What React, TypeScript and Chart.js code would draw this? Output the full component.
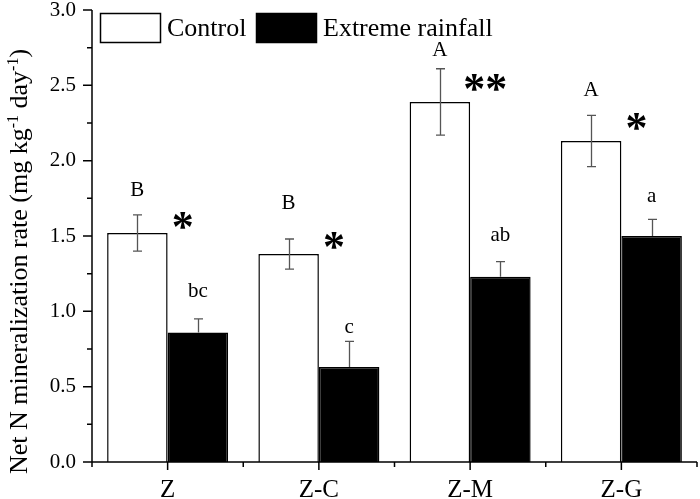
import React, { useEffect, useRef } from 'react';
import { Chart, registerables } from 'chart.js';

Chart.register(...registerables);

const categories = ['Z', 'Z-C', 'Z-M', 'Z-G'];
const seriesNames = ['Control', 'Extreme rainfall'];
const controlValues = [1.52, 1.38, 2.39, 2.13];
const controlErrors = [0.12, 0.10, 0.22, 0.17];
const rainValues = [0.86, 0.63, 1.23, 1.50];
const rainErrors = [0.09, 0.17, 0.10, 0.11];
const controlLetters = ['B', 'B', 'A', 'A'];
const controlLetterY = [1.805, 1.719, 2.734, 2.468];
const rainLetters = ['bc', 'c', 'ab', 'a'];
const rainLetterY = [1.13, 0.89, 1.506, 1.765];
const stars = ['*', '*', '**', '*'];
const starY = [1.606, 1.473, 2.517, 2.258];
const yTitleParts = [
  { text: 'Net N mineralization rate (mg kg', sup: false },
  { text: '-1', sup: true },
  { text: ' day', sup: false },
  { text: '-1', sup: true },
  { text: ')', sup: false },
];

const FONT = '"Liberation Serif", "Times New Roman", serif';

const decorPlugin = {
  id: 'decor',
  afterDatasetsDraw(chart: any) {
    const ctx: CanvasRenderingContext2D = chart.ctx;
    const xs = chart.scales.x;
    const ys = chart.scales.y;
    const { left, right, top, bottom } = chart.chartArea;
    ctx.save();

    // error bars
    const sets: [number[], number[], boolean][] = [
      [controlValues, controlErrors, true],
      [rainValues, rainErrors, false],
    ];
    sets.forEach(([vals, errs, both], di) => {
      const meta = chart.getDatasetMeta(di);
      meta.data.forEach((bar: any, i: number) => {
        const cx = Math.round(bar.x) + 0.5;
        const yTop = ys.getPixelForValue(vals[i] + errs[i]);
        const yBot = both ? ys.getPixelForValue(vals[i] - errs[i]) : ys.getPixelForValue(vals[i]);
        ctx.strokeStyle = '#555';
        ctx.lineWidth = 1.3;
        ctx.beginPath();
        ctx.moveTo(cx, yTop);
        ctx.lineTo(cx, yBot);
        ctx.moveTo(cx - 4.5, yTop);
        ctx.lineTo(cx + 4.5, yTop);
        if (both) {
          ctx.moveTo(cx - 4.5, yBot);
          ctx.lineTo(cx + 4.5, yBot);
        }
        ctx.stroke();
      });
    });

    // axes
    ctx.strokeStyle = '#000';
    ctx.lineWidth = 1.5;
    const ax = Math.round(left);
    const ay = Math.round(bottom);
    ctx.beginPath();
    ctx.moveTo(ax, ys.getPixelForValue(3));
    ctx.lineTo(ax, ay + 5);
    ctx.moveTo(ax, ay);
    ctx.lineTo(right, ay);
    for (let k = 0; k <= 12; k++) {
      const v = k * 0.25;
      const py = ys.getPixelForValue(v);
      const len = k % 2 === 0 ? 9 : 5;
      ctx.moveTo(ax - len, py);
      ctx.lineTo(ax, py);
    }
    const half = (xs.getPixelForValue(1) - xs.getPixelForValue(0)) / 2;
    categories.forEach((_, i) => {
      const px = xs.getPixelForValue(i);
      ctx.moveTo(px, ay);
      ctx.lineTo(px, ay + 8);
    });
    for (let k = 0; k <= categories.length; k++) {
      const px = xs.getPixelForValue(0) - half + k * 2 * half;
      ctx.moveTo(px, ay);
      ctx.lineTo(px, ay + 5);
    }
    ctx.stroke();

    // letters
    ctx.fillStyle = '#000';
    ctx.textAlign = 'center';
    ctx.textBaseline = 'middle';
    ctx.font = `21px ${FONT}`;
    const m0 = chart.getDatasetMeta(0);
    const m1 = chart.getDatasetMeta(1);
    categories.forEach((_, i) => {
      ctx.fillText(controlLetters[i], m0.data[i].x, ys.getPixelForValue(controlLetterY[i]));
      ctx.fillText(rainLetters[i], m1.data[i].x, ys.getPixelForValue(rainLetterY[i]));
    });
    // stars
    const starSize = 44;
    ctx.font = `bold ${starSize}px ${FONT}`;
    ctx.textBaseline = 'alphabetic';
    categories.forEach((_, i) => {
      const px = xs.getPixelForValue(i) + half * 0.2;
      ctx.fillText(stars[i], px, ys.getPixelForValue(starY[i]) + 0.47 * starSize);
    });

    // legend
    const boxW = 60;
    const boxH = 29;
    const ly = top + 3;
    const legendX = [left + 8, left + 164];
    seriesNames.forEach((name, i) => {
      const lx = legendX[i];
      ctx.fillStyle = i === 0 ? '#fff' : '#000';
      ctx.fillRect(lx + 0.5, ly + 0.5, boxW, boxH);
      ctx.strokeStyle = '#000';
      ctx.lineWidth = 1.5;
      ctx.strokeRect(lx + 0.5, ly + 0.5, boxW, boxH);
      ctx.fillStyle = '#000';
      ctx.font = `26px ${FONT}`;
      ctx.textAlign = 'left';
      ctx.textBaseline = 'alphabetic';
      ctx.fillText(name, lx + boxW + 7, ly + 23);
    });

    // y title
    ctx.save();
    ctx.translate(27, 261.5);
    ctx.rotate(-Math.PI / 2);
    const mainFont = `26px ${FONT}`;
    const supFont = `16px ${FONT}`;
    let total = 0;
    const widths = yTitleParts.map((p) => {
      ctx.font = p.sup ? supFont : mainFont;
      const w = ctx.measureText(p.text).width;
      total += w;
      return w;
    });
    let cx = -total / 2;
    ctx.textAlign = 'left';
    ctx.textBaseline = 'alphabetic';
    yTitleParts.forEach((p, i) => {
      ctx.font = p.sup ? supFont : mainFont;
      ctx.fillText(p.text, cx, p.sup ? -9 : 0);
      cx += widths[i];
    });
    ctx.restore();

    ctx.restore();
  },
};

export default function App() {
  const ref = useRef<HTMLCanvasElement>(null);
  useEffect(() => {
    if (!ref.current) return;
    const chart = new Chart(ref.current, {
      type: 'bar',
      data: {
        labels: categories,
        datasets: [
          {
            label: seriesNames[0],
            data: controlValues,
            backgroundColor: '#ffffff',
            borderColor: '#000000',
            borderWidth: 1.5,
            borderSkipped: 'bottom',
            categoryPercentage: 0.8,
            barPercentage: 1.0,
          },
          {
            label: seriesNames[1],
            data: rainValues,
            backgroundColor: '#000000',
            borderColor: '#000000',
            borderWidth: 1.5,
            borderSkipped: 'bottom',
            categoryPercentage: 0.8,
            barPercentage: 1.0,
          },
        ],
      },
      options: {
        responsive: false,
        animation: false,
        events: [],
        layout: { padding: { left: 0, top: 10, right: 3, bottom: 0 } },
        plugins: { legend: { display: false }, tooltip: { enabled: false } },
        scales: {
          x: {
            grid: { display: false, drawTicks: false },
            border: { display: false },
            ticks: { color: '#000', font: { family: FONT, size: 25 }, padding: 13, maxRotation: 0 },
            afterFit: (s: any) => {
              s.height = 37;
              s.paddingLeft = 0;
              s.paddingRight = 0;
            },
          },
          y: {
            min: 0,
            max: 3,
            grid: { display: false, drawTicks: false },
            border: { display: false },
            ticks: {
              stepSize: 0.5,
              color: '#000',
              font: { family: FONT, size: 21 },
              padding: 16,
              callback: (v: any) => Number(v).toFixed(1),
            },
            afterFit: (s: any) => {
              s.width = 92;
              s.paddingTop = 0;
              s.paddingBottom = 0;
            },
          },
        },
      },
      plugins: [decorPlugin],
    });
    return () => chart.destroy();
  }, []);
  return (
    <div style={{ position: 'absolute', left: 0, top: 0, width: 700, height: 499, background: '#fff' }}>
      <canvas ref={ref} width={700} height={499} style={{ width: 700, height: 499 }} />
    </div>
  );
}
